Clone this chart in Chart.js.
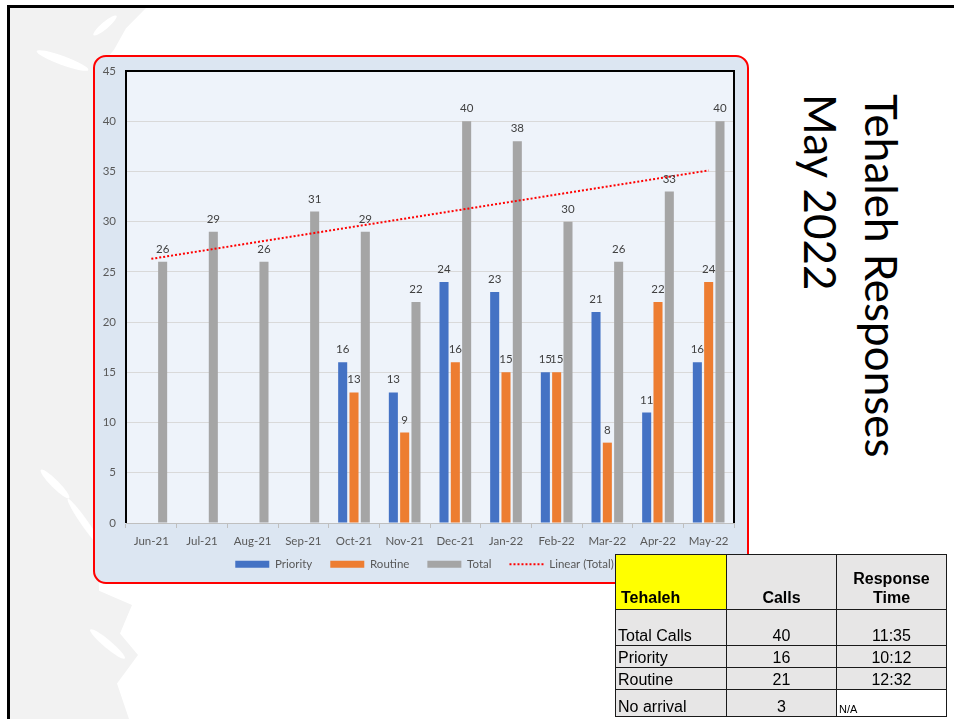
<!DOCTYPE html>
<html>
<head>
<meta charset="utf-8">
<script src="https://cdn.jsdelivr.net/npm/chart.js@4.4.1/dist/chart.umd.min.js"></script>
<style>
html, body { margin: 0; padding: 0; background: #fff; }
body { width: 954px; height: 719px; position: relative; overflow: hidden; font-family: Lato, sans-serif; }
#decor { position: absolute; left: 9px; top: 7px; width: 150px; height: 712px; background: #f2f2f2;
  clip-path: polygon(0 0, 92% 0, 78% 3%, 70% 6%, 62% 8%, 58% 12%, 60% 30%, 57% 55%, 60% 82%, 82% 84%, 74% 88%, 86% 91%, 72% 95%, 80% 100%, 0 100%); }
.streak { position: absolute; background: #fff; border-radius: 50%; }
#frameTop { position: absolute; left: 7px; top: 5px; width: 947px; height: 3px; background: #000; }
#frameLeft { position: absolute; left: 7px; top: 5px; width: 3px; height: 714px; background: #000; }
#chartBox { position: absolute; left: 93px; top: 55px; width: 656px; height: 529px; box-sizing: border-box;
  border: 2px solid #ff0000; border-radius: 13px; background: #dce6f2; }
#chartWrap { position: absolute; left: 0; top: 0; width: 652px; height: 525px; }
#title { position: absolute; left: 790px; top: 94px; writing-mode: vertical-rl; font-size: 44px; line-height: 61px; color: #000; white-space: nowrap; }
#stats { position: absolute; left: 615px; top: 554px; border-collapse: collapse; font-family: "Liberation Sans", Arial, sans-serif; font-size: 16px; color: #000; }
#stats td { border: 1.5px solid #1a1a1a; background: #e7e6e6; padding: 0 2px; vertical-align: bottom; line-height: 18px; }
#stats th { border: 1.5px solid #1a1a1a; background: #e7e6e6; font-weight: bold; vertical-align: bottom; padding: 0 2px 2px; line-height: 19px; }
#stats th.hl { background: #ffff00; text-align: left; padding-left: 5px; }
#stats td.c { text-align: center; }
#stats td.na { background: #fff; font-size: 11px; line-height: 14px; text-align: left; }
</style>
</head>
<body>
<div id="decor"></div>
<div class="streak" style="left:35px;top:56px;width:55px;height:9px;transform:rotate(20deg);"></div>
<div class="streak" style="left:90px;top:22px;width:30px;height:7px;transform:rotate(-40deg);"></div>
<div class="streak" style="left:35px;top:480px;width:40px;height:8px;transform:rotate(45deg);"></div>
<div class="streak" style="left:55px;top:520px;width:60px;height:7px;transform:rotate(55deg);"></div>
<div class="streak" style="left:85px;top:640px;width:45px;height:8px;transform:rotate(40deg);"></div>
<div id="frameTop"></div>
<div id="frameLeft"></div>

<div id="chartBox"><div id="chartWrap"><canvas id="chart"></canvas></div></div>

<div id="title">Tehaleh Responses<br>May 2022</div>

<table id="stats"></table>

<script>
// chart data
const months = ['Jun-21', 'Jul-21', 'Aug-21', 'Sep-21', 'Oct-21', 'Nov-21', 'Dec-21', 'Jan-22', 'Feb-22', 'Mar-22', 'Apr-22', 'May-22'];
const priority = [null, null, null, null, 16, 13, 24, 23, 15, 21, 11, 16];
const routine = [null, null, null, null, 13, 9, 16, 15, 15, 8, 22, 24];
const total = [26, 29, 26, 31, 29, 22, 40, 38, 30, 26, 33, 40];
// trendline ends
const trend = [26.3, null, null, null, null, null, null, null, null, null, null, 35.1];
const yTicks = [0, 5, 10, 15, 20, 25, 30, 35, 40, 45];

// side table
const tableHead = ['Tehaleh', 'Calls', 'Response Time'];
const tableRows = [
    ['Total Calls', '40', '11:35'],
    ['Priority', '16', '10:12'],
    ['Routine', '21', '12:32'],
    ['No arrival', '3', 'N/A']
];

// build the table
const rowHeights = [36, 22, 22, 27];
const table = document.getElementById('stats');
let html = '<tr style="height:55px">';
html += `<th class="hl" style="width:103px">${tableHead[0]}</th>`;
html += `<th style="width:105px">${tableHead[1]}</th>`;
html += `<th style="width:105px">${tableHead[2].replace(' ', '<br>')}</th>`;
html += '</tr>';
tableRows.forEach((r, i) => {
    const na = r[2] === 'N/A';
    html += `<tr style="height:${rowHeights[i]}px"><td>${r[0]}</td><td class="c">${r[1]}</td>`;
    html += na ? `<td class="na">${r[2]}</td>` : `<td class="c">${r[2]}</td>`;
    html += '</tr>';
});
table.innerHTML = html;

// plot area background + black frame (left, top, right), legend nudge
const plotFrame = {
    id: 'plotFrame',
    afterLayout(chart) {
        // pull the legend row up and right a little, like the original
        chart.legend.top -= 8.5;
        chart.legend.bottom -= 8.5;
        chart.legend.left += 10;
        chart.legend.right += 10;
    },
    beforeDraw(chart) {
        const a = chart.chartArea;
        const ctx = chart.ctx;
        ctx.save();
        ctx.fillStyle = '#eef3fa';
        ctx.fillRect(a.left, a.top, a.right - a.left, a.bottom - a.top);
        ctx.restore();
    },
    afterDatasetsDraw(chart) {
        const a = chart.chartArea;
        const ctx = chart.ctx;
        ctx.save();
        ctx.strokeStyle = '#000';
        ctx.lineWidth = 2;
        ctx.beginPath();
        ctx.moveTo(a.left, a.bottom);
        ctx.lineTo(a.left, a.top);
        ctx.lineTo(a.right, a.top);
        ctx.lineTo(a.right, a.bottom);
        ctx.stroke();
        ctx.restore();
    }
};

// value labels above the bars
const barLabels = {
    id: 'barLabels',
    afterDatasetsDraw(chart) {
        const ctx = chart.ctx;
        ctx.save();
        ctx.font = '11.5px Lato';
        ctx.fillStyle = '#404040';
        ctx.textAlign = 'center';
        ctx.textBaseline = 'alphabetic';
        chart.data.datasets.forEach((ds, i) => {
            if (ds.type === 'line') return;
            const meta = chart.getDatasetMeta(i);
            meta.data.forEach((bar, j) => {
                const v = ds.data[j];
                if (v === null) return;
                ctx.fillText(String(v), bar.x, bar.y - 9);
            });
        });
        ctx.restore();
    }
};

const ctx = document.getElementById('chart').getContext('2d');
const chart = new Chart(ctx, {
    type: 'bar',
    data: {
        labels: months,
        datasets: [
            {
                label: 'Priority',
                data: priority,
                backgroundColor: '#4472c4',
                borderWidth: 0,
                pointStyle: 'rect',
                order: 2
            },
            {
                label: 'Routine',
                data: routine,
                backgroundColor: '#ed7d31',
                borderWidth: 0,
                pointStyle: 'rect',
                order: 2
            },
            {
                label: 'Total',
                data: total,
                backgroundColor: '#a5a5a5',
                borderWidth: 0,
                pointStyle: 'rect',
                order: 2
            },
            {
                type: 'line',
                label: 'Linear (Total)',
                data: trend,
                spanGaps: true,
                borderColor: '#ff0000',
                backgroundColor: 'transparent',
                borderWidth: 2,
                borderDash: [2, 2],
                pointRadius: 0,
                pointStyle: 'line',
                order: 1
            }
        ]
    },
    options: {
        responsive: true,
        maintainAspectRatio: false,
        animation: false,
        datasets: {
            bar: {
                categoryPercentage: 0.67,
                barPercentage: 0.8
            }
        },
        layout: {
            padding: { left: 0, top: 14, right: 13, bottom: -6.5 }
        },
        plugins: {
            legend: {
                position: 'bottom',
                labels: {
                    usePointStyle: true,
                    pointStyleWidth: 34,
                    boxWidth: 34,
                    boxHeight: 7,
                    padding: 18,
                    color: '#595959',
                    font: { size: 11.5, family: 'Lato' },
                    sort: (a, b) => a.datasetIndex - b.datasetIndex,
                    generateLabels(chart) {
                        const items = Chart.defaults.plugins.legend.labels.generateLabels(chart);
                        items.forEach(item => {
                            const ds = chart.data.datasets[item.datasetIndex];
                            if (ds.type === 'line') {
                                item.lineDash = ds.borderDash;
                                item.lineWidth = ds.borderWidth;
                                item.strokeStyle = ds.borderColor;
                            }
                        });
                        return items;
                    }
                }
            },
            tooltip: { enabled: false }
        },
        scales: {
            x: {
                grid: {
                    drawOnChartArea: false,
                    drawTicks: true,
                    tickLength: 5,
                    color: '#bfbfbf'
                },
                border: { display: true, color: '#bfbfbf', width: 1 },
                ticks: {
                    color: '#595959',
                    padding: 6,
                    maxRotation: 0,
                    autoSkip: false,
                    font: { size: 11.5, family: 'Lato' }
                },
                afterFit(scale) { scale.height = 26; }
            },
            y: {
                min: 0,
                max: 45,
                afterBuildTicks(scale) { scale.ticks = yTicks.map(v => ({ value: v })); },
                grid: { color: '#d9d9d9', drawTicks: true, tickLength: 9, tickColor: 'transparent' },
                border: { display: false },
                ticks: {
                    color: '#595959',
                    padding: 1,
                    font: { size: 11.5, family: 'Lato' }
                },
                afterFit(scale) { scale.width = 31; }
            }
        }
    },
    plugins: [plotFrame, barLabels]
});
</script>
</body>
</html>
